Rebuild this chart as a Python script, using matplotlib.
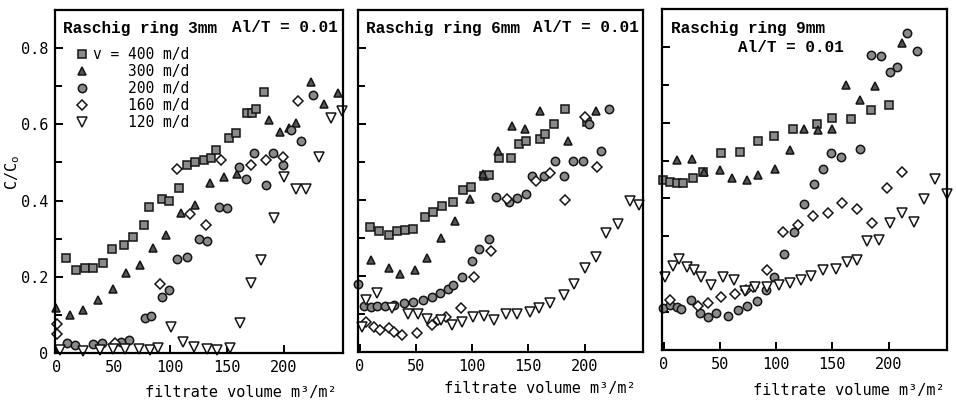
import matplotlib.pyplot as plt
import numpy as np

# filtrate volume (m3/m2), C/Co
r3_v400 = [(8.6, 0.249), (17.4, 0.218), (24.8, 0.222), (32.1, 0.222), (41, 0.235), (48.4, 0.272),
           (59.3, 0.283), (67, 0.304), (76.4, 0.336), (80.8, 0.382), (92.6, 0.405), (98.5, 0.40),
           (107.3, 0.432), (114.8, 0.493), (122.1, 0.5), (129.5, 0.507), (135.4, 0.511), (139.8, 0.533),
           (151.6, 0.563), (157.5, 0.577), (167.9, 0.629), (172, 0.631), (175.2, 0.64), (182.8, 0.686)]
r3_v300 = [(-0.3, 0.117), (11.5, 0.10), (23.3, 0.113), (36, 0.139), (49.8, 0.167), (61, 0.209),
           (73.5, 0.231), (85.2, 0.275), (96.5, 0.31), (109.5, 0.367), (122, 0.388), (134.8, 0.445),
           (147.2, 0.463), (159, 0.47), (187, 0.612), (196.7, 0.581), (204.6, 0.59), (210.6, 0.604),
           (224, 0.71), (235.7, 0.654), (247.5, 0.682)]
r3_v200 = [(9, 0.025), (16, 0.021), (32.1, 0.024), (39.6, 0.025), (57, 0.03), (64, 0.035),
           (78, 0.091), (83, 0.097), (92.6, 0.148), (98.5, 0.165), (106, 0.247), (114.8, 0.251),
           (125, 0.298), (132.5, 0.295), (142.7, 0.382), (150.2, 0.38), (160.4, 0.487), (166.4, 0.456),
           (173.7, 0.524), (184, 0.441), (190, 0.524), (198.8, 0.493), (206.2, 0.585), (215, 0.557),
           (226, 0.677)]
r3_v160 = [(0, 0.076), (0, 0.05), (51.3, 0.027), (91.2, 0.181), (106, 0.483), (117.7, 0.364),
           (131, 0.336), (144.2, 0.507), (170.8, 0.493), (184, 0.507), (198.8, 0.514), (212, 0.66)]
r3_v120 = [(2.7, 0.008), (23.3, 0.006), (38, 0.008), (49.8, 0.01), (60, 0.01), (72, 0.01),
           (81.7, 0.008), (89.6, 0.012), (100.6, 0.068), (111.2, 0.028), (121.2, 0.015), (131.9, 0.01),
           (140.7, 0.008), (152.5, 0.012), (161.3, 0.08), (170.8, 0.183), (179.6, 0.244), (190.9, 0.353),
           (200.3, 0.461), (210.6, 0.43), (219.5, 0.43), (231.2, 0.514), (241.6, 0.616), (251, 0.636)]

r6_v400 = [(9.1, 0.329), (17, 0.318), (25.8, 0.307), (33.2, 0.318), (40.5, 0.32), (47.8, 0.325),
           (58.1, 0.355), (65.4, 0.368), (72.8, 0.384), (83, 0.395), (91.8, 0.427), (99.2, 0.434),
           (110.9, 0.462), (115.3, 0.465), (123.5, 0.51), (134.4, 0.51), (141.7, 0.548), (147.6, 0.556),
           (160.8, 0.561), (165.2, 0.574), (172.5, 0.6), (182.8, 0.64), (202, 0.605)]
r6_v300 = [(9.7, 0.243), (25.8, 0.222), (35.5, 0.206), (49.3, 0.217), (60.2, 0.248), (71.9, 0.301),
           (84.5, 0.346), (98, 0.403), (109.4, 0.469), (122.6, 0.53), (135.8, 0.596), (147, 0.587),
           (160.8, 0.634), (185.7, 0.556), (209.8, 0.634)]
r6_v200 = [(-1.5, 0.18), (3.8, 0.121), (9.7, 0.119), (15.6, 0.121), (22.9, 0.121), (30.2, 0.123),
           (39, 0.129), (47.8, 0.132), (56.6, 0.138), (64, 0.145), (71.3, 0.154), (78.6, 0.167),
           (83, 0.176), (91.3, 0.198), (100.1, 0.24), (106.5, 0.27), (114.7, 0.298), (121.2, 0.408),
           (132.9, 0.394), (140.2, 0.406), (147.6, 0.417), (153.4, 0.462), (163.7, 0.462), (173.4, 0.502),
           (181.3, 0.462), (190.1, 0.502), (198.9, 0.502), (204, 0.6), (214.5, 0.528), (221.6, 0.64)]
r6_v160 = [(5.3, 0.08), (12.6, 0.066), (18.5, 0.058), (25.8, 0.062), (30.8, 0.053), (37.6, 0.045),
           (50.8, 0.049), (64, 0.071), (69.8, 0.084), (77.2, 0.093), (90.4, 0.115), (102.1, 0.198),
           (116.8, 0.266), (131.4, 0.403), (156.4, 0.451), (169.6, 0.47), (182.2, 0.399), (200.4, 0.618),
           (211.5, 0.486)]
r6_v120 = [(2.4, 0.066), (5.3, 0.136), (15, 0.154), (28.8, 0.115), (42.6, 0.1), (52.2, 0.1),
           (59.6, 0.086), (71.9, 0.084), (82.5, 0.071), (91.3, 0.08), (101.2, 0.093), (110.9, 0.094),
           (119.7, 0.084), (130, 0.101), (140.2, 0.101), (151.1, 0.106), (159.9, 0.115), (169.6, 0.128),
           (181.3, 0.15), (191, 0.178), (200.4, 0.222), (210.6, 0.249), (219.5, 0.312), (229.8, 0.338),
           (240, 0.397), (248.8, 0.388)]

r9_v400 = [(-0.3, 0.449), (5.6, 0.444), (11.5, 0.441), (17.4, 0.44), (26.3, 0.453), (35.1, 0.47),
           (51.3, 0.519), (67.5, 0.523), (84.3, 0.552), (97.9, 0.565), (114.8, 0.582), (136.3, 0.596),
           (149.3, 0.611), (167, 0.61), (184, 0.633), (200.3, 0.646)]
r9_v300 = [(11.5, 0.501), (24.8, 0.503), (36, 0.47), (49.8, 0.475), (60.8, 0.453), (74.3, 0.449),
           (84.3, 0.462), (99.1, 0.479), (112.7, 0.528), (124.5, 0.582), (137, 0.58), (149.3, 0.582),
           (162, 0.699), (174.6, 0.661), (187.6, 0.697), (212.1, 0.811)]
r9_v200 = [(-0.3, 0.11), (5.6, 0.119), (11.5, 0.114), (15.3, 0.107), (24.2, 0.132), (32.1, 0.098),
           (39.6, 0.088), (46.9, 0.097), (57.3, 0.09), (66.1, 0.106), (74.3, 0.116), (83.2, 0.13),
           (91.2, 0.158), (98.5, 0.192), (107.3, 0.253), (116.2, 0.312), (124.5, 0.385), (133.4, 0.437),
           (141.3, 0.479), (148.7, 0.519), (158.1, 0.51), (174.6, 0.53), (184, 0.778), (192.9, 0.776),
           (201.2, 0.734), (207.7, 0.748), (216.5, 0.837), (225.4, 0.79)]
r9_v160 = [(5.6, 0.132), (30.7, 0.116), (39.6, 0.123), (51.3, 0.141), (63.7, 0.148), (73.5, 0.158),
           (79.4, 0.167), (92, 0.211), (105.9, 0.312), (119.2, 0.33), (132.5, 0.354), (145.8, 0.362),
           (159, 0.389), (172.3, 0.371), (185.6, 0.336), (198.8, 0.427), (212.1, 0.47)]
r9_v120 = [(1.2, 0.193), (8.6, 0.222), (13.5, 0.239), (20.4, 0.218), (27.2, 0.211), (33.6, 0.193),
           (42.5, 0.171), (52.8, 0.193), (62.6, 0.185), (72.6, 0.156), (81.4, 0.167), (92, 0.167),
           (102.9, 0.171), (112.7, 0.178), (122.1, 0.185), (131, 0.195), (141.3, 0.211), (153.1, 0.213),
           (162.8, 0.233), (172.3, 0.237), (181.1, 0.288), (191.4, 0.29), (201.2, 0.336), (212.1, 0.362),
           (222.4, 0.339), (231.9, 0.398), (241.6, 0.451), (251.9, 0.412)]

velocities = ["400", "300", "200", "160", "120"]
ring_sizes = ["3mm", "6mm", "9mm"]
x_ticks = [0, 50, 100, 150, 200]
y_ticks = [0, 0.2, 0.4, 0.6, 0.8]
y_tick_labels = ["0", "0.2", "0.4", "0.6", "0.8"]

panels = [
    [r3_v400, r3_v300, r3_v200, r3_v160, r3_v120],
    [r6_v400, r6_v300, r6_v200, r6_v160, r6_v120],
    [r9_v400, r9_v300, r9_v200, r9_v160, r9_v120],
]

# marker, face, size
styles = [
    ("s", "#8a8a8a", 5.6),
    ("^", "#555555", 6.4),
    ("o", "#8a8a8a", 6.0),
    ("D", "white", 4.8),
    ("v", "white", 6.6),
]

MONO = "DejaVu Sans Mono"
TYPE = "Liberation Mono"
W, H = 956, 407


def fx(px):
    return px / W


def fy(py):
    return 1 - py / H


fig = plt.figure(figsize=(W / 100, H / 100), dpi=100)
boxes = [(55, 343, 10, 353), (358, 643, 10, 352), (662, 947, 9, 350)]

for i, (series, box) in enumerate(zip(panels, boxes)):
    l, r, t, b = box
    ax = fig.add_axes([fx(l), fy(b), (r - l) / W, (b - t) / H])
    for pts, (mk, fc, ms), v in zip(series, styles, velocities):
        xs = np.array([p[0] for p in pts])
        ys = np.array([p[1] for p in pts])
        lab = ("v = " if v == "400" else "    ") + v + " m/d"
        ax.plot(xs, ys, linestyle="none", marker=mk, markersize=ms, markerfacecolor=fc,
                markeredgecolor="#151515", markeredgewidth=1.1, clip_on=False, label=lab)
    ax.set_xlim(-1.5, 252)
    ax.set_ylim(0, 0.9)
    ax.set_xticks(x_ticks)
    ax.set_yticks(y_ticks)
    ax.set_yticks([0.1, 0.3, 0.5, 0.7], minor=True)
    ax.tick_params(which="both", direction="in", width=1.4, labelsize=11, pad=5)
    ax.tick_params(which="major", length=6)
    ax.tick_params(which="minor", length=5)
    for s in ax.spines.values():
        s.set_linewidth(1.6)
    for lab in ax.get_xticklabels() + ax.get_yticklabels():
        lab.set_fontfamily(MONO)
    if i == 0:
        ax.set_yticklabels(y_tick_labels)
        ax.legend(loc="upper left", bbox_to_anchor=(0.067, 0.893), frameon=False,
                  borderpad=0, borderaxespad=0, handlelength=1.0, handletextpad=0.25,
                  labelspacing=0.14, prop={"family": MONO, "size": 10.5})
    else:
        ax.set_yticklabels([])

# panel titles
tkw = dict(family=TYPE, size=11.5, weight="bold", va="center")
fig.text(fx(63), fy(28), "Raschig ring " + ring_sizes[0], **tkw)
fig.text(fx(338), fy(28), "Al/T = 0.01", ha="right", **tkw)
fig.text(fx(366), fy(28), "Raschig ring " + ring_sizes[1], **tkw)
fig.text(fx(639), fy(28), "Al/T = 0.01", ha="right", **tkw)
fig.text(fx(671), fy(28), "Raschig ring " + ring_sizes[2], **tkw)
fig.text(fx(844), fy(48), "Al/T = 0.01", ha="right", **tkw)

# axis labels
fig.text(fx(13), fy(172), r"C/C$_\mathregular{o}$", family=MONO, size=11, rotation=90,
         ha="center", va="center")
for xr, yc in [(337, 393), (636, 388), (945, 391)]:
    fig.text(fx(xr), fy(yc), "filtrate volume m³/m²", family=MONO, size=11,
             ha="right", va="center")

fig.savefig("out.png", dpi=100)
